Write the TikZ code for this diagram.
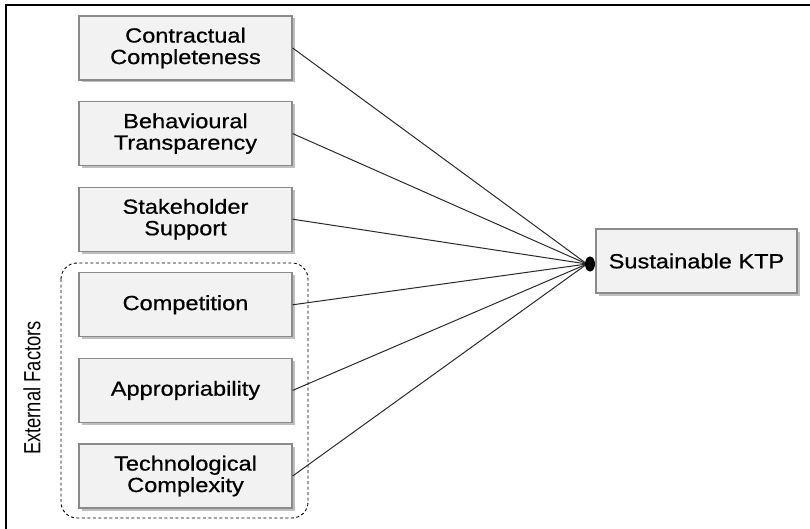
\documentclass[tikz,border=0pt]{standalone}
\usepackage{fontspec}
\setmainfont{Liberation Sans}[FakeStretch=1.15, FakeBold=0.6]
\newfontfamily\narrowfont{Liberation Sans}[FakeStretch=0.92]
\usetikzlibrary{shadows}
\definecolor{boxfill}{HTML}{F2F2F2}
\definecolor{boxline}{HTML}{8A8A8A}
\definecolor{linkcol}{HTML}{2A2A2A}
\begin{document}
\begin{tikzpicture}[x=1pt,y=-1pt,
  factor/.style={draw=boxline, line width=1.3pt, fill=boxfill,
    minimum width=213pt, minimum height=64pt, inner sep=0pt,
    align=center, font=\fontsize{20.5}{21.5}\selectfont,
    drop shadow={shadow xshift=2.5pt, shadow yshift=-2.5pt, fill=black!25, opacity=1}},
  link/.style={draw=linkcol, line width=1pt}]
\useasboundingbox (0,0) rectangle (810,529);
% frame edges
\draw[line width=2pt] (6,529) -- (6,5) -- (810,5);
% external factors group
\draw[dashed, dash pattern=on 3pt off 2.5pt, line width=0.9pt, rounded corners=16pt]
  (61,263) rectangle (308,518);
\node[rotate=90, font=\narrowfont\fontsize{20}{20}\selectfont] (ext) at (32,388)
  {\scalebox{1}[1.17]{External Factors}};
% factor boxes
\node[factor] (c1) at (185.5,48)    {Contractual\\Completeness};
\node[factor] (c2) at (185.5,133.6) {Behavioural\\Transparency};
\node[factor] (c3) at (185.5,219.2) {Stakeholder\\Support};
\node[factor] (c4) at (185.5,304.8) {Competition};
\node[factor] (c5) at (185.5,390.4) {Appropriability};
\node[factor] (c6) at (185.5,476)   {Technological\\Complexity};
% outcome
\node[factor, minimum width=201pt] (ktp) at (696.5,261) {Sustainable KTP};
\coordinate (j) at (587,264);
% links
\foreach \n in {c1,c2,c3,c4,c5,c6}
  \draw[link] (\n.east) -- (j);
\fill (590,264) ellipse [x radius=5pt, y radius=7.5pt];
\end{tikzpicture}
\end{document}
